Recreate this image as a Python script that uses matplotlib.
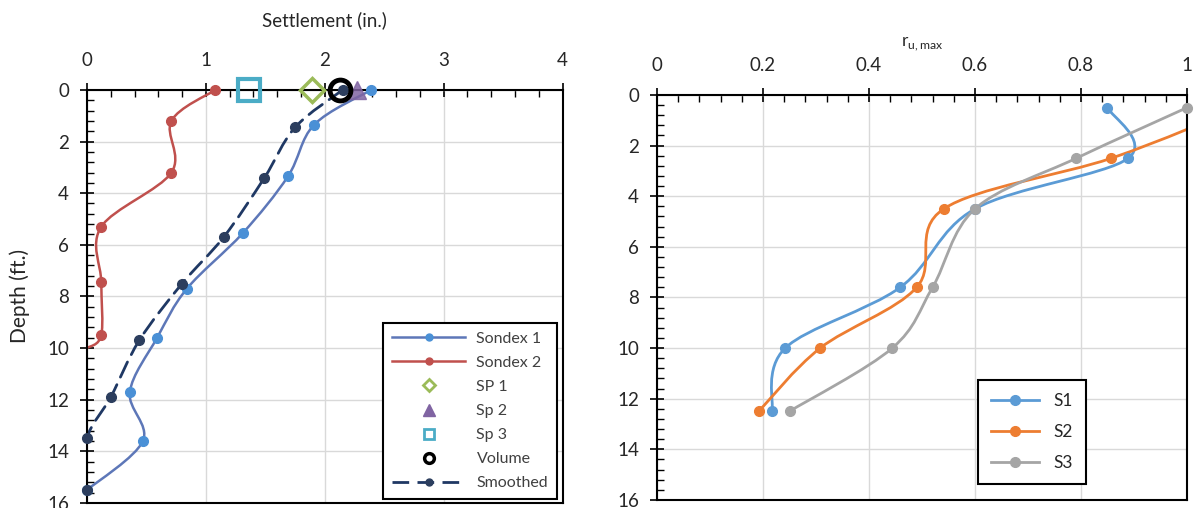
import numpy as np
import matplotlib
matplotlib.use("Agg")
import matplotlib.pyplot as plt
from matplotlib.path import Path
from matplotlib.patches import PathPatch
from matplotlib.lines import Line2D
from matplotlib.ticker import MultipleLocator

plt.rcParams['font.family'] = ['Lato', 'DejaVu Sans']

# --- left chart: settlement vs depth ---
sondex1_x = [2.39, 1.91, 1.69, 1.31, 0.84, 0.59, 0.36, 0.47, 0.0]
sondex1_d = [0.0, 1.35, 3.35, 5.55, 7.7, 9.6, 11.7, 13.6, 15.5]

sondex2_x = [1.08, 0.71, 0.71, 0.12, 0.12, 0.12, 0.0]
sondex2_d = [0.0, 1.2, 3.2, 5.3, 7.45, 9.5, 10.0]

smoothed_x = [2.15, 1.75, 1.49, 1.15, 0.80, 0.44, 0.20, 0.0, 0.0]
smoothed_d = [0.0, 1.45, 3.42, 5.7, 7.5, 9.7, 11.9, 13.5, 15.5]

sp1 = (1.89, 0.0)
sp2 = (2.27, 0.0)
sp3 = (1.36, 0.0)
volume = (2.13, 0.0)

# --- right chart: ru,max vs depth ---
depth_r = [0.5, 2.5, 4.5, 7.6, 10.0, 12.5]
s1 = [0.85, 0.889, 0.60, 0.459, 0.242, 0.217]
s2 = [1.1, 0.857, 0.541, 0.49, 0.308, 0.192]
s3 = [1.0, 0.791, 0.60, 0.52, 0.444, 0.25]


def smooth_path(x, y):
    # Excel-like smoothed line (cubic bezier through the points)
    pts = np.column_stack([x, y]).astype(float)
    n = len(pts)
    verts = [pts[0]]
    codes = [Path.MOVETO]
    for i in range(n - 1):
        p0 = pts[max(i - 1, 0)]
        p1 = pts[i]
        p2 = pts[i + 1]
        p3 = pts[min(i + 2, n - 1)]
        verts += [p1 + (p2 - p0) / 6, p2 - (p3 - p1) / 6, p2]
        codes += [Path.CURVE4] * 3
    return Path(verts, codes)


def add_curve(ax, x, y, color, lw=2, ls='-'):
    patch = PathPatch(smooth_path(x, y), fill=False, edgecolor=color,
                      lw=lw, linestyle=ls, capstyle='round')
    ax.add_patch(patch)


def style_axes(ax, xmax, xmajor, xminor):
    ax.set_xlim(0, xmax)
    ax.set_ylim(16, 0)
    ax.xaxis.set_major_locator(MultipleLocator(xmajor))
    ax.xaxis.set_minor_locator(MultipleLocator(xminor))
    ax.yaxis.set_major_locator(MultipleLocator(2))
    ax.yaxis.set_minor_locator(MultipleLocator(0.4))
    ax.xaxis.tick_top()
    ax.xaxis.set_label_position('top')
    ax.tick_params(which='major', direction='inout', length=10, width=1.2,
                   labelsize=13.5, colors='black', labelcolor='#262626', pad=8)
    ax.tick_params(axis='x', which='major', pad=10)
    ax.tick_params(which='minor', direction='in', length=5, width=1)
    ax.xaxis.set_major_formatter(lambda v, p: f"{v:g}")
    ax.grid(True, which='major', color='#D9D9D9', lw=1)
    ax.set_axisbelow(True)
    for s in ax.spines.values():
        s.set_color('black')
        s.set_linewidth(1.5)


fig = plt.figure(figsize=(11.95, 5.08), dpi=100)
ax1 = fig.add_axes([0.0728, 0.010, 0.398, 0.813])
ax2 = fig.add_axes([0.5498, 0.016, 0.4435, 0.797])

# left chart
style_axes(ax1, 4, 1, 0.2)
ax1.set_xlabel("Settlement (in.)", fontsize=13.5, labelpad=19, color='#262626')
ax1.set_ylabel("Depth (ft.)", fontsize=15, labelpad=12, color='#262626')

c_s1_line, c_s1_mk = '#5D77B8', '#4A90D6'
c_s2 = '#C0504D'
c_sm_line, c_sm_mk = '#1F3864', '#2C3E5E'

add_curve(ax1, sondex1_x, sondex1_d, c_s1_line, lw=1.8)
ax1.plot(sondex1_x, sondex1_d, 'o', color=c_s1_mk, ms=7, clip_on=False, zorder=4)
add_curve(ax1, sondex2_x, sondex2_d, c_s2, lw=1.8)
ax1.plot(sondex2_x[:-1], sondex2_d[:-1], 'o', color=c_s2, ms=7, clip_on=False, zorder=4)
add_curve(ax1, smoothed_x, smoothed_d, c_sm_line, lw=2, ls=(0, (6, 3)))
ax1.plot(smoothed_x, smoothed_d, 'o', color=c_sm_mk, ms=7, clip_on=False, zorder=4)

ax1.plot(*sp3, 's', ms=16, mfc='none', mec='#4BACC6', mew=3, clip_on=False, zorder=5)
ax1.plot(*sp1, 'D', ms=12, mfc='none', mec='#9BBB59', mew=2.5, clip_on=False, zorder=5)
ax1.plot(*sp2, '^', ms=13, color='#8064A2', alpha=0.85, clip_on=False, zorder=5)
ax1.plot(*volume, 'o', ms=15, mfc='none', mec='black', mew=3.5, clip_on=False, zorder=6)

h1 = [
    Line2D([], [], color=c_s1_line, lw=1.8, marker='o', mfc=c_s1_mk, mec=c_s1_mk, ms=5),
    Line2D([], [], color=c_s2, lw=1.8, marker='o', ms=5),
    Line2D([], [], ls='none', marker='D', ms=6, mfc='none', mec='#9BBB59', mew=2),
    Line2D([], [], ls='none', marker='^', ms=8, color='#8064A2'),
    Line2D([], [], ls='none', marker='s', ms=7, mfc='none', mec='#4BACC6', mew=2),
    Line2D([], [], ls='none', marker='o', ms=7, mfc='none', mec='black', mew=2.5),
    Line2D([], [], color=c_sm_line, lw=2, ls=(0, (6, 3)), marker='o',
           mfc=c_sm_mk, mec=c_sm_mk, ms=5),
]
labels1 = ["Sondex 1", "Sondex 2", "SP 1", "Sp 2", "Sp 3", "Volume", "Smoothed"]
leg1 = ax1.legend(h1, labels1, loc='lower right', bbox_to_anchor=(0.988, 0.009),
                  borderaxespad=0, fontsize=11.5, handlelength=4.6, labelspacing=0.62,
                  borderpad=0.55, handletextpad=0.7,
                  fancybox=False, framealpha=1, edgecolor='black')
leg1.get_frame().set_linewidth(1.5)
for t in leg1.get_texts():
    t.set_color('#404040')

# right chart
style_axes(ax2, 1, 0.2, 0.04)
ax2.set_xlabel(r"r$_{\mathregular{u,max}}$", fontsize=12.5, labelpad=8, color='#262626')

series = [(s1, '#5B9BD5', 'S1'), (s2, '#ED7D31', 'S2'), (s3, '#A5A5A5', 'S3')]
h2 = []
for vals, col, lab in series:
    add_curve(ax2, vals, depth_r, col, lw=2)
    v = np.array(vals)
    d = np.array(depth_r)
    keep = v <= 1.0
    ax2.plot(v[keep], d[keep], 'o', color=col, ms=7, clip_on=False, zorder=4)
    h2.append(Line2D([], [], color=col, lw=2, marker='o', ms=7))
leg2 = ax2.legend(h2, [s[2] for s in series], loc='lower left',
                  bbox_to_anchor=(0.605, 0.04), borderaxespad=0, fontsize=12.5,
                  handlelength=2.8, labelspacing=0.85, borderpad=0.75,
                  fancybox=False, framealpha=1, edgecolor='black')
leg2.get_frame().set_linewidth(1.5)
for t in leg2.get_texts():
    t.set_color('#262626')

fig.savefig("out.png", dpi=100)
